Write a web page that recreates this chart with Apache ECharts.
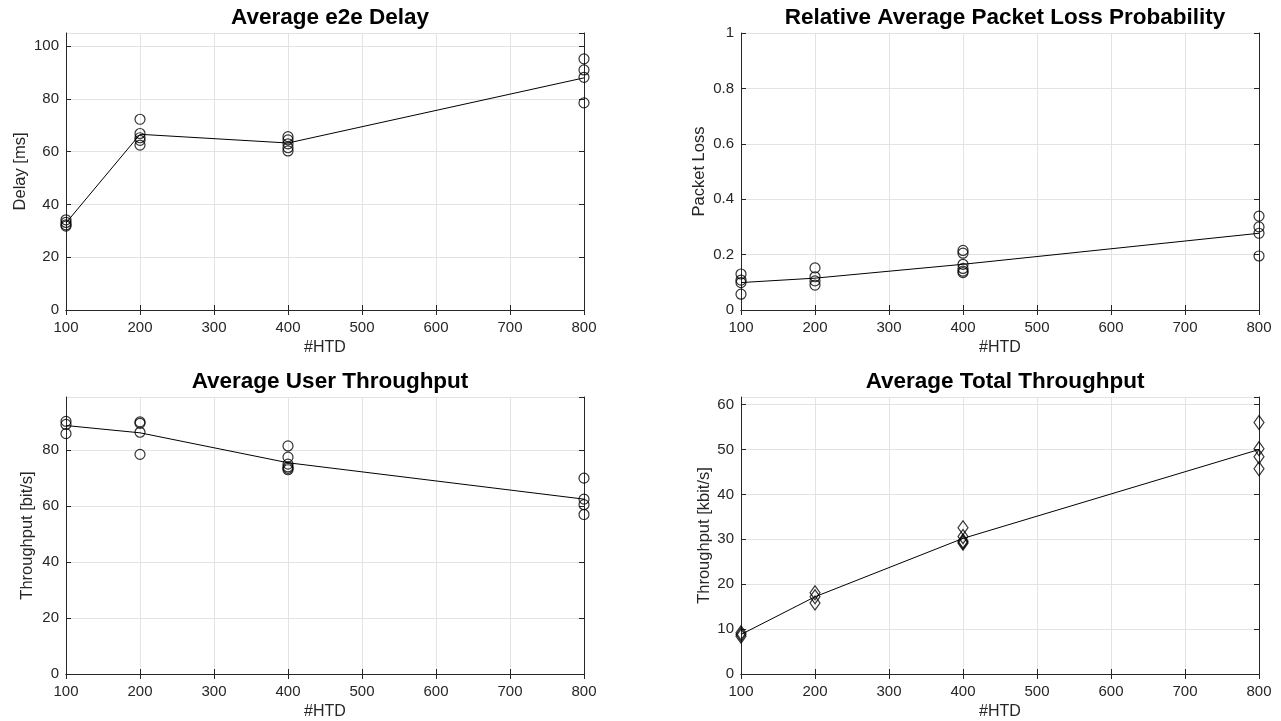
<!DOCTYPE html>
<html>
<head>
<meta charset="utf-8">
<script src="https://cdn.jsdelivr.net/npm/echarts@6/dist/echarts.min.js"></script>
<style>
  html, body { margin: 0; padding: 0; background: #fff; }
  #chart { width: 1281px; height: 721px; }
</style>
</head>
<body>
<div id="chart"></div>
<script>
// number of HTDs on the x axis
const htd = [100, 200, 400, 800];

// average e2e delay [ms]
const delayMean = [33, 66.6, 63.3, 88];
const delayRuns = [
  [34.2, 33.2, 32.3, 31.8],
  [72.3, 66.9, 65.3, 64.3, 62.5],
  [65.7, 64.5, 63, 61.5, 60.3],
  [95.2, 91, 88.2, 78.5]
];

// relative packet loss probability
const lossMean = [0.099, 0.115, 0.165, 0.277];
const lossRuns = [
  [0.13, 0.108, 0.099, 0.057],
  [0.152, 0.12, 0.105, 0.09],
  [0.215, 0.205, 0.165, 0.15, 0.14, 0.135],
  [0.339, 0.30, 0.277, 0.195]
];

// average user throughput [bit/s]
const userMean = [88.8, 86.2, 75.5, 62.5];
const userRuns = [
  [90.3, 89.2, 85.9],
  [90.1, 89.6, 86.4, 78.5],
  [81.5, 77.5, 75, 74, 73.5, 73],
  [70, 62.5, 60.5, 57]
];

// average total throughput [kbit/s]
const totalMean = [8.8, 17.2, 30.2, 50];
const totalRuns = [
  [9.2, 8.8, 8.4],
  [18.1, 17.2, 15.8],
  [32.6, 30.6, 29.6, 29.1, 29.4],
  [56, 50.2, 48.4, 45.7]
];

const txt = '#262626';
const gridCol = '#e3e3e3';
const font = 'Liberation Sans, Arial, sans-serif';

const panels = [
  { title: 'Average e2e Delay', yName: 'Delay [ms]', mean: delayMean, runs: delayRuns, max: 105, interval: 20, showMax: false, nameGap: 37, sym: 'circle', left: 66, top: 33 },
  { title: 'Relative Average Packet Loss Probability', yName: 'Packet Loss', mean: lossMean, runs: lossRuns, max: 1, interval: 0.2, showMax: true, nameGap: 33, sym: 'circle', left: 741, top: 33 },
  { title: 'Average User Throughput', yName: 'Throughput [bit/s]', mean: userMean, runs: userRuns, max: 99, interval: 20, showMax: false, nameGap: 30, sym: 'circle', left: 66, top: 397 },
  { title: 'Average Total Throughput', yName: 'Throughput [kbit/s]', mean: totalMean, runs: totalRuns, max: 61.7, interval: 10, showMax: false, nameGap: 26, sym: 'diamond', left: 741, top: 397 }
];

const W = 518, H = 277;
const option = {
  animation: false,
  backgroundColor: '#fff',
  textStyle: { fontFamily: font },
  title: [], grid: [], xAxis: [], yAxis: [], series: []
};

panels.forEach((p, i) => {
  option.title.push({
    text: p.title, left: p.left + W / 2, top: p.top - 32, textAlign: 'center',
    textStyle: { fontSize: 22.5, fontWeight: 'bold', color: '#000', fontFamily: font }
  });
  option.grid.push({ left: p.left, top: p.top, width: W, height: H });

  const xBase = {
    gridIndex: i, type: 'value', min: 100, max: 800, interval: 100,
    axisLine: { show: true, lineStyle: { color: txt, width: 1 } },
    axisTick: { show: true, inside: true, length: 5, lineStyle: { color: txt } },
    splitLine: { show: false }
  };
  option.xAxis.push(Object.assign({}, xBase, {
    position: 'bottom',
    name: '#HTD', nameLocation: 'middle', nameGap: 30,
    nameTextStyle: { fontSize: 16, color: txt },
    axisLabel: { fontSize: 15, color: txt, margin: 10 },
    splitLine: { show: true, lineStyle: { color: gridCol, width: 1 } }
  }));
  option.xAxis.push(Object.assign({}, xBase, { position: 'top', axisLabel: { show: false } }));

  const yBase = {
    gridIndex: i, type: 'value', min: 0, max: p.max, interval: p.interval,
    axisLine: { show: true, lineStyle: { color: txt, width: 1 } },
    axisTick: { show: true, inside: true, length: 5, lineStyle: { color: txt } },
    splitLine: { show: false }
  };
  option.yAxis.push(Object.assign({}, yBase, {
    position: 'left',
    name: p.yName, nameLocation: 'middle', nameGap: p.nameGap,
    nameTextStyle: { fontSize: 16.5, color: txt },
    axisLabel: { fontSize: 15, color: txt, margin: 7, showMaxLabel: p.showMax },
    splitLine: { show: true, lineStyle: { color: gridCol, width: 1 } }
  }));
  option.yAxis.push(Object.assign({}, yBase, { position: 'right', axisLabel: { show: false } }));

  const xi = i * 2, yi = i * 2;
  option.series.push({
    type: 'line', xAxisIndex: xi, yAxisIndex: yi,
    data: htd.map((x, k) => [x, p.mean[k]]),
    symbol: 'none', lineStyle: { color: '#000', width: 1 }, z: 3
  });
  const pts = [];
  htd.forEach((x, k) => p.runs[k].forEach(v => pts.push([x, v])));
  option.series.push({
    type: 'scatter', xAxisIndex: xi, yAxisIndex: yi, data: pts,
    symbol: p.sym, symbolSize: p.sym === 'diamond' ? [10, 14] : 10,
    itemStyle: { color: 'rgba(0,0,0,0)', borderColor: '#000', borderWidth: 1.2 },
    z: 4
  });
});

const chart = echarts.init(document.getElementById('chart'));
chart.setOption(option);
</script>
</body>
</html>
